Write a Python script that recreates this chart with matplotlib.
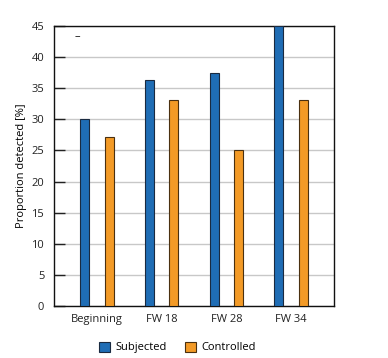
import numpy as np
import matplotlib.pyplot as plt

plt.rcParams['font.family'] = ['Open Sans', 'DejaVu Sans']

categories = ['Beginning', 'FW 18', 'FW 28', 'FW 34']
subjected = [30.0, 36.3, 37.5, 45.0]
controlled = [27.1, 33.1, 25.0, 33.1]

fig = plt.figure(figsize=(3.88, 3.58), dpi=100)
ax = fig.add_axes([54 / 388, 1 - 306 / 358, 280 / 388, 280 / 358])

x = np.arange(len(categories))
w = 0.14
ax.bar(x - 0.19, subjected, w, color='#1f6db5', edgecolor='#1a2a40', linewidth=0.8,
       label='Subjected', zorder=3)
ax.bar(x + 0.19, controlled, w, color='#f39a26', edgecolor='#4a3010', linewidth=0.8,
       label='Controlled', zorder=3)

ax.set_xlim(-0.66, 3.66)
ax.set_ylim(0, 45)
ax.set_yticks(range(0, 50, 5))
ax.set_xticks(x)
ax.set_xticklabels(categories)
ax.yaxis.grid(True, color='#c8c8c8', linewidth=1.0, zorder=0)
ax.tick_params(axis='y', direction='in', length=8, width=1, labelsize=8, colors='#222222', pad=7)
ax.tick_params(axis='x', length=0, labelsize=8, colors='#222222', pad=6)
for s in ax.spines.values():
    s.set_linewidth(1.0)
    s.set_color('#111111')
ax.set_ylabel('Proportion detected [%]', fontsize=8, labelpad=3)
ax.text(-0.3, 43.3, '–', fontsize=8, ha='center', va='center')

fig.legend(loc='lower center', bbox_to_anchor=(0.457, -0.015), ncol=2, frameon=False,
           fontsize=8, handlelength=1.0, handleheight=1.0, columnspacing=1.6,
           handletextpad=0.5)

fig.savefig('out.png', dpi=100)
